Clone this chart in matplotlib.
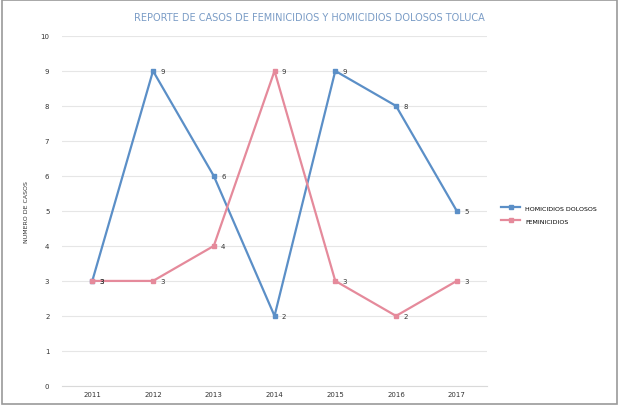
import matplotlib.pyplot as plt
from matplotlib.patches import Rectangle

# datos
anios = ["2011", "2012", "2013", "2014", "2015", "2016", "2017"]
homicidios = [3, 9, 6, 2, 9, 8, 5]
feminicidios = [3, 3, 4, 9, 3, 2, 3]

azul = "#5b8fc7"
rosa = "#e58a9b"

fig = plt.figure(figsize=(6.19, 4.06), dpi=100)
ax = fig.add_axes([0.1, 0.047, 0.687, 0.862])

x = range(len(anios))
ax.plot(x, homicidios, color=azul, lw=1.6, marker="s", ms=3.5,
        mfc=azul, mec=azul, label="HOMICIDIOS DOLOSOS")
ax.plot(x, feminicidios, color=rosa, lw=1.6, marker="s", ms=3.5,
        mfc=rosa, mec=rosa, label="FEMINICIDIOS")

# etiquetas de datos
for i, v in enumerate(homicidios):
    ax.text(i + 0.12, v, str(v), fontsize=5, va="center", color="#333333")
for i, v in enumerate(feminicidios):
    ax.text(i + 0.12, v, str(v), fontsize=5, va="center", color="#333333")

ax.set_xlim(-0.5, len(anios) - 0.5)
ax.set_ylim(0, 10)
ax.set_yticks(range(0, 11))
ax.set_xticks(list(x))
ax.set_xticklabels(anios)
ax.tick_params(labelsize=5, length=0, colors="#333333")
ax.tick_params(axis="y", pad=9)
ax.grid(axis="y", color="#e6e6e6", lw=0.8)
ax.set_axisbelow(True)
for s in ["top", "right", "left"]:
    ax.spines[s].set_visible(False)
ax.spines["bottom"].set_color("#d9d9d9")

ax.set_ylabel("NUMERO DE CASOS", fontsize=4.5, color="#333333", labelpad=8)
fig.text(0.5, 0.955, "REPORTE DE CASOS DE FEMINICIDIOS Y HOMICIDIOS DOLOSOS TOLUCA",
         ha="center", va="center", fontsize=7, color="#7a9cc6")

ax.legend(loc="center left", bbox_to_anchor=(1.02, 0.49), frameon=False,
          fontsize=4.5, handlelength=3, labelspacing=1.2)

fig.patches.append(Rectangle((0.003, 0.003), 0.994, 0.994, transform=fig.transFigure,
                             fill=False, edgecolor="#9a9a9a", lw=1.2))

fig.savefig("out.png", dpi=100)
